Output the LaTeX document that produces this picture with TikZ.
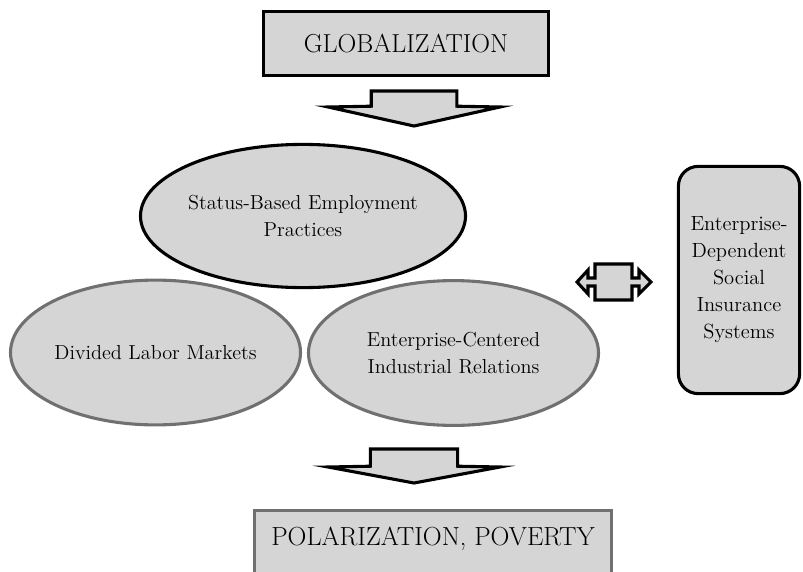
\documentclass[tikz,border=0pt]{standalone}
\usetikzlibrary{shapes.geometric}
\definecolor{boxgray}{RGB}{213,213,213}
\definecolor{edgegray}{RGB}{112,112,112}

\begin{document}
\begin{tikzpicture}[
 box/.style={rectangle,draw,line width=2.2pt,fill=boxgray,align=center},
 oval/.style={ellipse,draw,line width=2.2pt,fill=boxgray,align=center,
              minimum width=7.25cm,minimum height=3.62cm,inner sep=0pt,
              font=\fontsize{14.4}{19.5}\selectfont},
 blockarrow/.style={draw,line width=2.2pt,fill=boxgray}]
\useasboundingbox (0,0) rectangle (20.075,14.275);
\node[box,minimum width=7.13cm,minimum height=1.6cm,
      font=\fontsize{18.5}{22}\selectfont] (glob) at (10.15,13.19) {GLOBALIZATION};
\draw[blockarrow] (9.28,12.0) -- (11.42,12.0) -- (11.42,11.62) -- (12.5,11.6)
  -- (10.35,11.125) -- (8.2,11.6) -- (9.28,11.62) -- cycle;
\node[oval,draw=edgegray] (labor) at (3.8875,5.4625) {Divided Labor Markets};
\node[oval,draw=edgegray] (unions) at (11.3375,5.45) {Enterprise-Centered\\Industrial Relations};
\node[oval,minimum height=3.58cm] (status) at (7.575,8.875) {Status-Based Employment\\Practices};
\draw[blockarrow] (14.875,7.675) -- (15.8,7.675) -- (15.8,7.325) -- (15.975,7.325)
  -- (15.975,7.525) -- (16.275,7.225) -- (15.975,6.925) -- (15.975,7.125)
  -- (15.8,7.125) -- (15.8,6.775) -- (14.875,6.775) -- (14.875,7.125)
  -- (14.7,7.125) -- (14.7,6.925) -- (14.425,7.225) -- (14.7,7.525)
  -- (14.7,7.325) -- (14.875,7.325) -- cycle;
\node[box,rounded corners=14pt,minimum width=3.03cm,minimum height=5.68cm,
      font=\fontsize{14.6}{19.2}\selectfont] (insure) at (18.475,7.275)
  {Enterprise-\\Dependent\\Social\\Insurance\\Systems};
\draw[blockarrow] (9.26,3.05) -- (11.44,3.05) -- (11.44,2.62) -- (12.5,2.6)
  -- (10.35,2.2) -- (8.2,2.6) -- (9.26,2.62) -- cycle;
\node[box,draw=edgegray,anchor=north,minimum width=8.93cm,inner ysep=0pt,
      text height=0.89cm,text depth=1.3cm,
      font=\fontsize{18.6}{22}\selectfont] (poverty) at (10.825,1.5625) {POLARIZATION, POVERTY};
\end{tikzpicture}
\end{document}
